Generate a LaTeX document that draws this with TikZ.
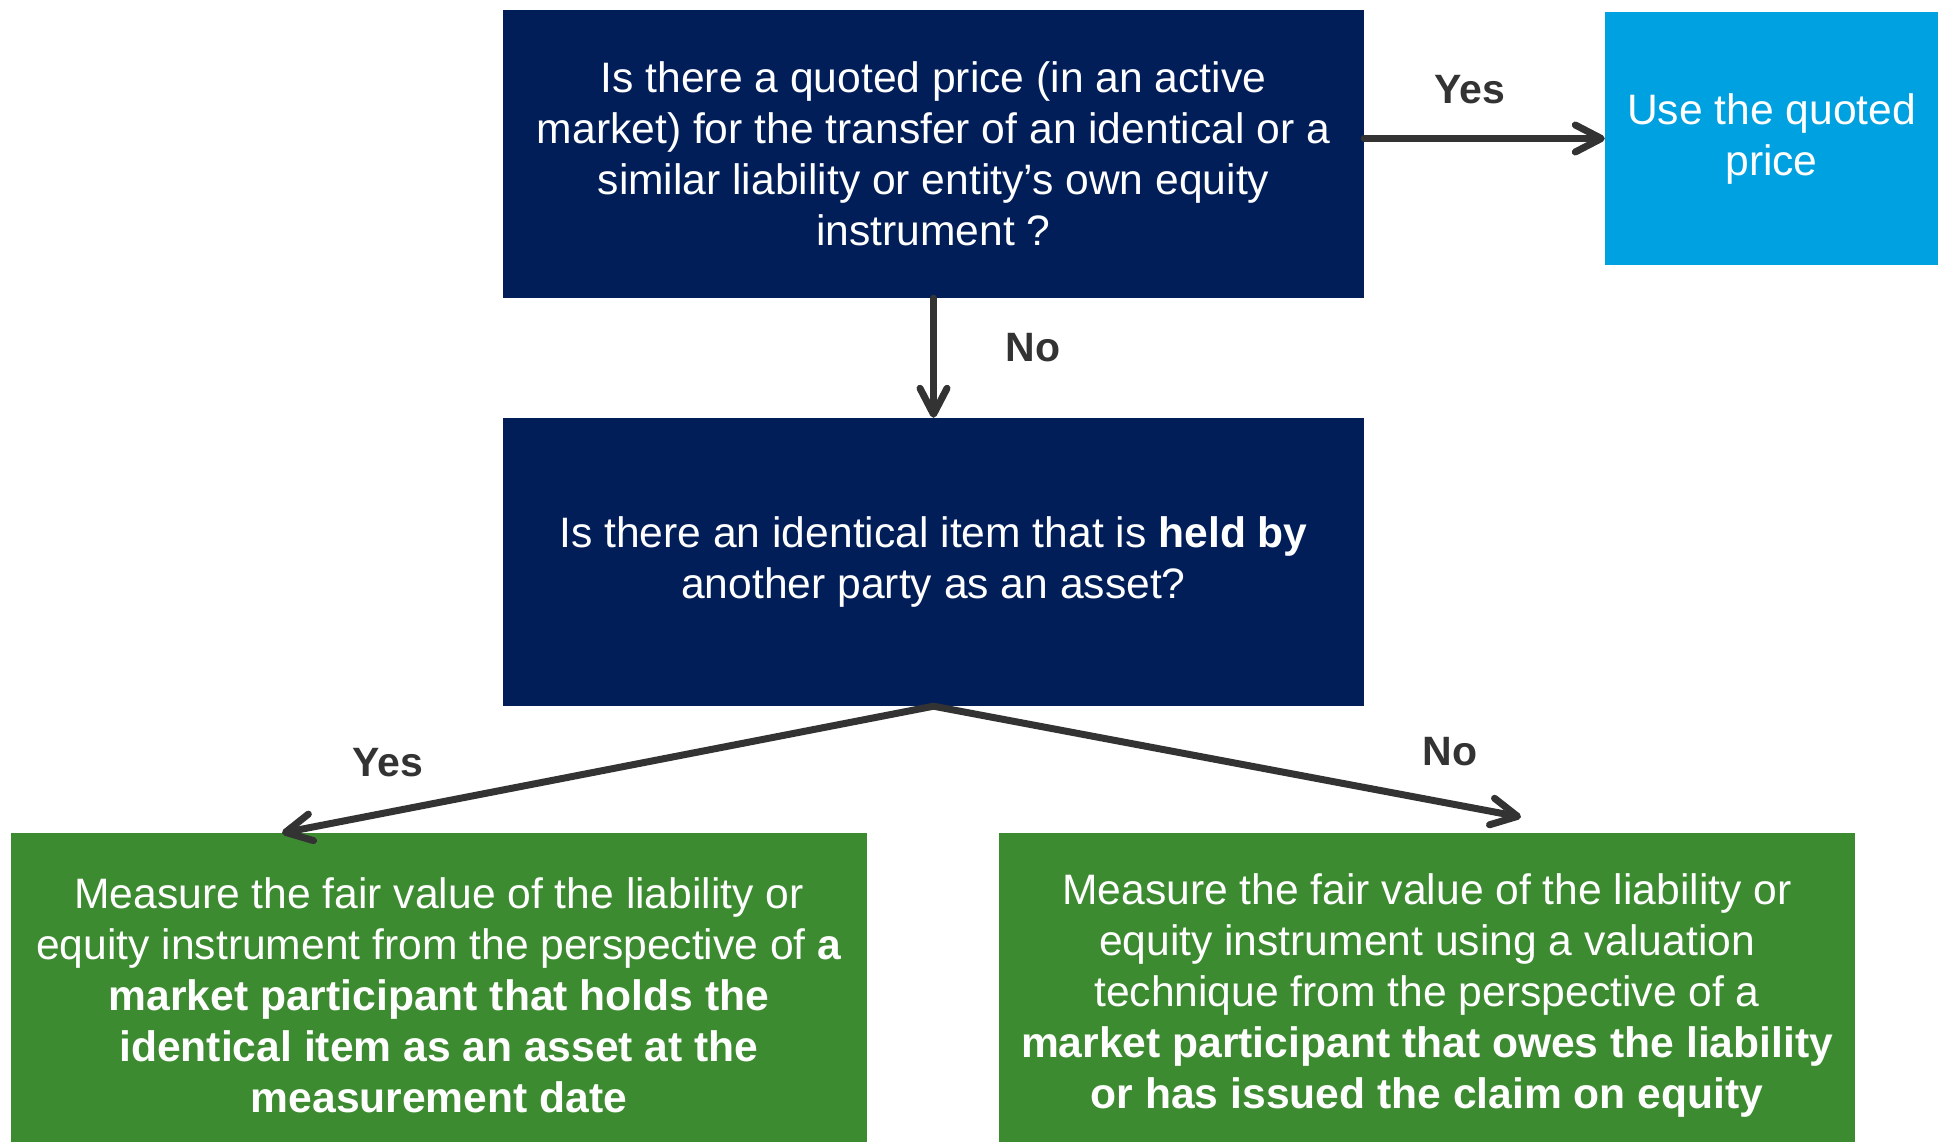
\documentclass[tikz,border=0pt]{standalone}
\usepackage{fontspec}
\setmainfont{Liberation Sans}
\usepackage{tikz}
\usetikzlibrary{arrows.meta}
\definecolor{navy}{RGB}{1,30,89}
\definecolor{skyblue}{RGB}{0,161,224}
\definecolor{leafgreen}{RGB}{61,139,48}
\definecolor{arrowgray}{RGB}{51,51,51}
\tikzset{
  box/.style={rectangle, text=white, align=center, inner sep=0pt,
    font=\fontsize{42.6}{51}\selectfont},
  qbox/.style={box, fill=navy, minimum width=861pt, minimum height=288pt},
  usebox/.style={box, fill=skyblue, minimum width=333pt, minimum height=253pt},
  resbox/.style={box, fill=leafgreen, minimum width=856pt, minimum height=324pt},
  answer/.style={text=arrowgray, font=\fontsize{41}{49}\selectfont\bfseries},
  flow/.style={arrowgray, line width=7pt, line cap=round,
    -{Straight Barb[round, length=26pt, width=27pt]}}
}
\begin{document}
\begin{tikzpicture}[x=1pt, y=-1pt]
\useasboundingbox (0,0) rectangle (1938,1142);
% блоки
\node [qbox] (quoteq) at (933.5,154) {Is there a quoted price (in an active\\
  market) for the transfer of an identical or a\\
  similar liability or entity’s own equity\\
  instrument ?};
\node [usebox] (priceuse) at (1771.5,138.5) {Use the quoted\\ price};
\node [qbox] (heldq) at (933.5,562) {Is there an identical item that is \textbf{held by}\\
  another party as an asset?};
\node [resbox] (holdres) at (439,995) {Measure the fair value of the liability or\\
  equity instrument from the perspective of \textbf{a}\\
  \textbf{market participant that holds the}\\
  \textbf{identical item as an asset at the}\\
  \textbf{measurement date}};
\node [resbox] (oweres) at (1427,995) {Measure the fair value of the liability or\\
  equity instrument using a valuation\\
  technique from the perspective of a\\
  \textbf{market participant that owes the liability}\\
  \textbf{or has issued the claim on equity}};
% концы стрелок
\coordinate (holdtip) at (282,833);
\coordinate (owetip) at (1521,817);
% стрелки
\draw [flow] (quoteq.east |- priceuse.west) -- (priceuse.west);
\draw [flow] (quoteq.south) -- (heldq.north);
\draw [flow] (heldq.south) -- (holdtip);
\draw [flow] (heldq.south) -- (owetip);
% подписи
\node [answer] (yestop) at (1470,90) {Yes};
\node [answer] (notop) at (1033,348) {No};
\node [answer] (yesleft) at (388,763) {Yes};
\node [answer] (noright) at (1450,752) {No};
\end{tikzpicture}
\end{document}
